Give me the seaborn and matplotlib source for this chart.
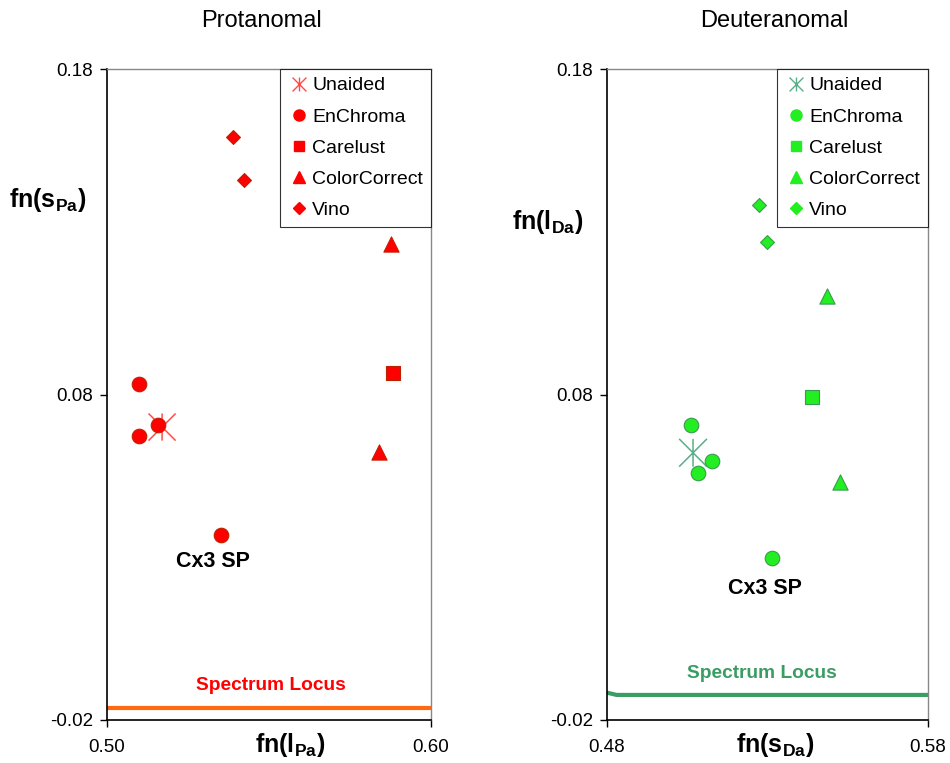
import matplotlib
matplotlib.use("Agg")
import matplotlib.pyplot as plt
import seaborn as sns
import pandas as pd
from matplotlib.lines import Line2D
from matplotlib.path import Path

sns.set_theme(style="white")
plt.rcParams['font.family'] = ['Liberation Sans', 'DejaVu Sans']
plt.rcParams['mathtext.default'] = 'regular'
plt.rcParams['text.color'] = 'black'
plt.rcParams['axes.labelcolor'] = 'black'
plt.rcParams['xtick.color'] = 'black'
plt.rcParams['ytick.color'] = 'black'

series = ["Unaided", "EnChroma", "Carelust", "ColorCorrect", "Vino"]

# Protanomal panel data
prot_unaided_x = [0.517]
prot_unaided_y = [0.070]
prot_enchroma_x = [0.510, 0.510, 0.5157, 0.5352]
prot_enchroma_y = [0.0832, 0.0673, 0.0707, 0.0369]
prot_carelust_x = [0.5883]
prot_carelust_y = [0.0866]
prot_colorcorrect_x = [0.5877, 0.584]
prot_colorcorrect_y = [0.1263, 0.0624]
prot_vino_x = [0.5389, 0.5423]
prot_vino_y = [0.1591, 0.1459]
prot_locus_x = [0.50, 0.60]
prot_locus_y = [-0.0162, -0.0162]

# Deuteranomal panel data
deut_unaided_x = [0.5068]
deut_unaided_y = [0.0621]
deut_enchroma_x = [0.5062, 0.5084, 0.5128, 0.5315]
deut_enchroma_y = [0.0707, 0.0560, 0.0597, 0.0299]
deut_carelust_x = [0.5438]
deut_carelust_y = [0.0793]
deut_colorcorrect_x = [0.5485, 0.5525]
deut_colorcorrect_y = [0.1103, 0.0532]
deut_vino_x = [0.5274, 0.5299]
deut_vino_y = [0.1382, 0.1269]
deut_locus_x = [0.48, 0.483, 0.58]
deut_locus_y = [-0.0116, -0.0123, -0.0123]

y_ticks = [-0.02, 0.08, 0.18]
prot_x_ticks = [0.50, 0.60]
deut_x_ticks = [0.48, 0.58]

# Excel-style asterisk: X plus vertical bar
ASTER = Path([(-1, -1), (1, 1), (-1, 1), (1, -1), (0, -1), (0, 1)],
             [Path.MOVETO, Path.LINETO, Path.MOVETO, Path.LINETO,
              Path.MOVETO, Path.LINETO])
marker_map = {"Unaided": ASTER, "EnChroma": "o", "Carelust": "s",
              "ColorCorrect": "^", "Vino": "D"}
size_map = {"Unaided": 600, "EnChroma": 110, "Carelust": 105,
            "ColorCorrect": 120, "Vino": 50}
legend_size = {"Unaided": 10, "EnChroma": 8, "Carelust": 7.5,
               "ColorCorrect": 8, "Vino": 6}


def build(xs, ys):
    rows = []
    for name, xv, yv in zip(series, xs, ys):
        for a, b in zip(xv, yv):
            rows.append({"series": name, "x": a, "y": b})
    return pd.DataFrame(rows)


def draw(ax, df, fill, edge, aster_col, aster_lw, aster_size, locus_x, locus_y,
         locus_col, locus_text_col, locus_text_pos, cx_pos, xticks, title,
         title_x, xlabel, xlabel_pos, ylabel, ylabel_pos):
    sns.lineplot(x=locus_x, y=locus_y, ax=ax, color=locus_col, linewidth=3,
                 legend=False)
    for name in series:
        sub = df[df["series"] == name]
        if name == "Unaided":
            sns.scatterplot(data=sub, x="x", y="y", ax=ax, marker=ASTER,
                            s=aster_size, facecolor="none",
                            edgecolor=aster_col, linewidth=aster_lw,
                            legend=False, zorder=3)
        else:
            sns.scatterplot(data=sub, x="x", y="y", ax=ax,
                            marker=marker_map[name], s=size_map[name],
                            color=fill, edgecolor=edge, linewidth=0.8,
                            legend=False, zorder=4)
    ax.set_xlim(xticks[0], xticks[-1])
    ax.set_ylim(y_ticks[0], y_ticks[-1])
    ax.set_xticks(xticks)
    ax.set_xticklabels([f"{t:.2f}" for t in xticks], fontsize=13.5)
    ax.set_yticks(y_ticks)
    ax.set_yticklabels([f"{t:.2f}" for t in y_ticks], fontsize=13.5)
    ax.tick_params(axis="both", direction="out", length=5, width=1,
                   color="black", bottom=True, left=True)
    ax.tick_params(axis="x", pad=9)
    ax.tick_params(axis="y", pad=5)
    for s in ["left", "bottom"]:
        ax.spines[s].set_color("black")
        ax.spines[s].set_linewidth(1.2)
    for s in ["top", "right"]:
        ax.spines[s].set_color("#888888")
        ax.spines[s].set_linewidth(1.0)
    ax.set_title(title, fontsize=17, pad=30, x=title_x)
    ax.set_xlabel("")
    ax.set_ylabel("")
    ax.text(xlabel_pos[0], xlabel_pos[1], xlabel, transform=ax.transAxes,
            fontsize=18, fontweight="bold", ha="center", va="center")
    ax.text(ylabel_pos[0], ylabel_pos[1], ylabel, transform=ax.transAxes,
            fontsize=18, fontweight="bold", ha="center", va="center")
    ax.text(locus_text_pos[0], locus_text_pos[1], "Spectrum Locus",
            color=locus_text_col, fontsize=13.8, fontweight="bold",
            ha="center", va="center", transform=ax.transData)
    ax.text(cx_pos[0], cx_pos[1], "Cx3 SP", color="black", fontsize=15.5,
            fontweight="bold", ha="center", va="center")
    handles = []
    for name in series:
        if name == "Unaided":
            h = Line2D([], [], linestyle="none", marker=ASTER,
                       markersize=legend_size[name], color=aster_col,
                       markeredgecolor=aster_col, markerfacecolor="none",
                       markeredgewidth=1.0)
        else:
            h = Line2D([], [], linestyle="none", marker=marker_map[name],
                       markersize=legend_size[name], markerfacecolor=fill,
                       markeredgecolor=fill)
        handles.append(h)
    leg = ax.legend(handles, series, loc="upper right", fontsize=14,
                    frameon=True, fancybox=False, edgecolor="black",
                    borderpad=0.4, labelspacing=0.7, handletextpad=0.15,
                    handlelength=1.1, borderaxespad=0)
    leg.get_frame().set_linewidth(0.8)


fig = plt.figure(figsize=(9.5, 7.63), dpi=100)
ax1 = fig.add_axes([107 / 950, 1 - 720 / 763, 324 / 950, 651 / 763])
ax2 = fig.add_axes([607 / 950, 1 - 720 / 763, 321 / 950, 651 / 763])

prot_df = build([prot_unaided_x, prot_enchroma_x, prot_carelust_x,
                 prot_colorcorrect_x, prot_vino_x],
                [prot_unaided_y, prot_enchroma_y, prot_carelust_y,
                 prot_colorcorrect_y, prot_vino_y])
deut_df = build([deut_unaided_x, deut_enchroma_x, deut_carelust_x,
                 deut_colorcorrect_x, deut_vino_x],
                [deut_unaided_y, deut_enchroma_y, deut_carelust_y,
                 deut_colorcorrect_y, deut_vino_y])

draw(ax1, prot_df, "#ff0000", "#c02000", "#ff4a4a", 1.1, 380,
     prot_locus_x, prot_locus_y, "#ff6a10", "#ff0000", (0.5505, -0.0094),
     (0.5327, 0.0288), prot_x_ticks, "Protanomal", 0.478,
     r"fn(l$_{Pa}$)", (0.565, -0.038), r"fn(s$_{Pa}$)", (-0.182, 0.799))
draw(ax2, deut_df, "#22ee22", "#3a9a50", "#5aae88", 1.1, 400,
     deut_locus_x, deut_locus_y, "#3a9d63", "#3a9d63", (0.5283, -0.0058),
     (0.5291, 0.0205), deut_x_ticks, "Deuteranomal", 0.52,
     r"fn(s$_{Da}$)", (0.523, -0.038), r"fn(l$_{Da}$)", (-0.184, 0.765))

fig.savefig("out.png", dpi=100)
